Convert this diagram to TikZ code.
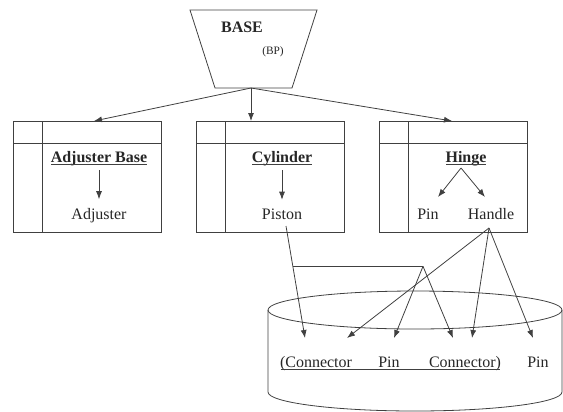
\documentclass[tikz,border=0pt]{standalone}
\usepackage{fontspec}
\setmainfont{Liberation Serif}
\usetikzlibrary{arrows.meta}

\begin{document}
\begin{tikzpicture}[x=.75pt,y=-.75pt,
	line/.style={black!75, line width=.6pt},
	arrow/.style={line, -{Latex[length=6pt,width=4.5pt]}},
	every node/.style={font=\fontsize{12}{14}\selectfont, text=black!85, anchor=base}]
\useasboundingbox (0,0) rectangle (563,411);

% base part
\draw[line] (190,10) -- (317,10) -- (292,88) -- (215,88) -- cycle;
\node (base) at (242,32) {\textbf{BASE}};
\node[font=\fontsize{8.5}{10}\selectfont] (bp) at (273,54) {(BP)};
\coordinate (apex) at (251,88);

\def\partbox at (#1,#2) named #3;{
	\draw[line] (#1,#2) rectangle ++(148,111);
	\draw[line] (#1+29,#2) -- ++(0,111);
	\draw[line] (#1,#2+22) -- ++(148,0);
	\coordinate (#3) at (#1+74,#2);
}
\partbox at (13,121) named boxL;
\partbox at (196,121) named boxC;
\partbox at (379,121) named boxR;

\node (adjbase) at (99,162) {\textbf{Adjuster Base}};
\node (adjuster) at (99,219) {Adjuster};
\node (cyl) at (282,162) {\textbf{Cylinder}};
\node (piston) at (282,219) {Piston};
\node (hinge) at (466,162) {\textbf{Hinge}};
\node (hpin) at (428,219) {Pin};
\node (handle) at (491,219) {Handle};
\foreach \n in {adjbase,cyl,hinge}
	\draw[line, line width=.9pt] ([shift={(4pt,-1.8pt)}]\n.base west) -- ([shift={(-4pt,-1.8pt)}]\n.base east);

\draw[arrow] (apex) -- ([shift={(7,0)}]boxL);
\draw[arrow] (apex) -- (apex |- boxC);
\draw[arrow] (apex) -- ([shift={(-1,0)}]boxR);

\draw[arrow, shorten >=3pt] (adjbase) -- (adjuster);
\draw[arrow, shorten >=3pt] (cyl) -- (piston);
\coordinate (split) at ([shift={(-5,6)}]hinge.base);
\draw[arrow] (split) -- ([shift={(10,-22)}]hpin.base);
\draw[arrow] (split) -- ([shift={(-6,-22)}]handle.base);

% assembly tank
\draw[line] (415,310) ellipse [x radius=110.25pt, y radius=14.25pt];
\draw[line] (268,310) -- (268,392) arc[start angle=180, end angle=360, x radius=110.25pt, y radius=14.25pt] -- (562,310);

\node (conL) at (316,367) {(Connector};
\node (pinA) at (389,367) {Pin};
\node (conR) at (465,367) {Connector)};
\node (pinB) at (538,367) {Pin};
\draw[line] ([shift={(4pt,-2pt)}]conL.base west) -- ([shift={(-4pt,-2pt)}]conR.base east);

\draw[arrow] ([shift={(4,7)}]piston.base) -- coordinate[pos=.36] (branch) ([shift={(-11,-29)}]conL.base);
\coordinate (elbow) at (423,266);
\draw[line] (branch) -- (elbow |- branch) coordinate (corner);
\draw[arrow] (corner) -- ([shift={(5,-29)}]pinA.base);
\draw[arrow] (corner) -- ([shift={(-12,-29)}]conR.base);

\coordinate (hstart) at ([shift={(-2,9)}]handle.base);
\draw[arrow] (hstart) -- ([shift={(31,-29)}]conL.base);
\draw[arrow] (hstart) -- ([shift={(7,-29)}]conR.base);
\draw[arrow] (hstart) -- ([shift={(-5,-29)}]pinB.base);
\end{tikzpicture}
\end{document}
